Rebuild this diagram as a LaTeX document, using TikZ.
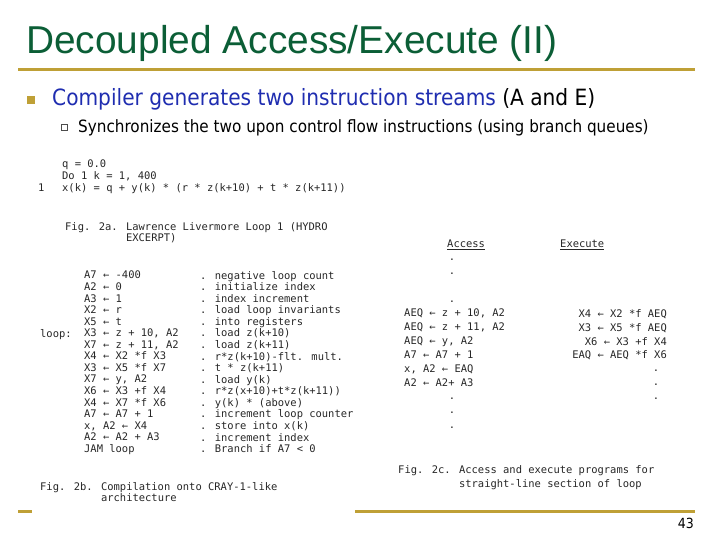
\documentclass[tikz,border=0pt]{standalone}
\usepackage{fontspec}
\setmainfont{DejaVu Sans Condensed}
\newfontfamily\titlefont{Liberation Sans}
\newfontfamily\codefont{DejaVu Sans Mono}
\definecolor{titlegreen}{HTML}{0B5E36}
\definecolor{rulegold}{HTML}{BFA036}
\definecolor{itemblue}{HTML}{1F2DB0}
\tikzset{
  code/.style={anchor=north west, inner sep=0pt, align=left,
    font=\codefont\fontsize{10.5}{11.6}\selectfont, text=black!85},
  codewide/.style={code, font=\codefont\fontsize{10.5}{14}\selectfont},
  dot/.style={code, anchor=center},
  goldrule/.style={rulegold, line width=3bp}
}
\begin{document}
\begin{tikzpicture}[x=1bp,y=-1bp]
  \useasboundingbox (0,0) rectangle (720,540);

  % title and rules
  \node[anchor=base west, inner sep=0pt, text=titlegreen, font=\titlefont\fontsize{39}{39}\selectfont] (title) at (26,54) {Decoupled Access/Execute (II)};
  \draw[goldrule] (18,70) coordinate (ruleL) -- (695,70) coordinate (ruleR);
  \draw[goldrule] (18,511) coordinate (footA) -- (32,511) coordinate (footB);
  \draw[goldrule] (355,511) coordinate (footC) -- (695,511) coordinate (footD);
  \node[anchor=base east, inner sep=0pt, font=\fontsize{14}{14}\selectfont] (page) at (694,528) {43};

  % bullets
  \fill[rulegold] (27,96) rectangle (35,104);
  \node[anchor=base west, inner sep=0pt, font=\fontsize{22.5}{22.5}\selectfont] (item1) at (52,106)
    {\textcolor{itemblue}{Compiler generates two instruction streams} (A and E)};
  \draw[black!70, line width=0.6bp] (61,124) rectangle (67,130);
  \node[anchor=base west, inner sep=0pt, font=\fontsize{17}{17}\selectfont] (item2) at (78,133)
    {Synchronizes the two upon control flow instructions (using branch queues)};

  % Fig. 2a
  \node[code] (srcA) at (62,160) {q = 0.0\\Do 1  k = 1, 400\\x(k) = q + y(k) * (r * z(k+10) + t * z(k+11))};
  \node[code] (srcLbl) at (38,183.2) {1};
  \node[code] (capA) at (65,222) {Fig. 2a.  Lawrence Livermore Loop 1 (HYDRO\\\phantom{Fig. 2a.  }EXCERPT)};

  % Fig. 2b
  \node[code] (crayL) at (84,271) {A7 ← -400\\A2 ← 0\\A3 ← 1\\X2 ← r\\X5 ← t\\X3 ← z + 10, A2\\X7 ← z + 11, A2\\X4 ← X2 *f X3\\X3 ← X5 *f X7\\X7 ←  y, A2\\X6 ← X3 +f X4\\X4 ← X7 *f X6\\A7 ← A7 + 1\\x, A2 ← X4\\A2 ← A2 + A3\\JAM  loop};
  \node[code] (loopLbl) at (40,329) {loop:};
  \node[code] (crayR) at (200,271) {. negative loop count\\. initialize index\\. index increment\\. load loop invariants\\. into registers\\. load z(k+10)\\. load z(k+11)\\. r*z(k+10)-flt. mult.\\. t * z(k+11)\\. load y(k)\\. r*z(x+10)+t*z(k+11))\\. y(k) * (above)\\. increment loop counter\\. store into x(k)\\. increment index\\. Branch if A7 < 0};
  \node[code] (capB) at (40,482) {Fig. 2b.  Compilation onto CRAY-1-like\\\phantom{Fig. 2b.  }architecture};

  % Fig. 2c
  \node[code] (accHd) at (447,240) {\underline{Access}};
  \node[code] (exeHd) at (560,240) {\underline{Execute}};
  \foreach \y [count=\i] in {260,274,302,399,413,428}
    \node[dot] (accDot\i) at (452,\y) {.};
  \foreach \y [count=\i] in {371,385,399}
    \node[dot] (exeDot\i) at (656,\y) {.};
  \node[codewide] (acc) at (404,309) {AEQ ← z + 10, A2\\AEQ ← z + 11, A2\\AEQ ← y, A2\\A7 ← A7 + 1\\x, A2 ← EAQ\\A2  ← A2+ A3};
  \node[codewide, anchor=north east, align=right] (exe) at (667,309) {X4 ← X2 *f AEQ\\X3 ← X5 *f AEQ\\X6 ← X3 +f X4\\EAQ ← AEQ *f X6};
  \node[codewide] (capC) at (398,465) {Fig. 2c.  Access and execute programs for\\\phantom{Fig. 2c.  }straight-line section of loop};
\end{tikzpicture}
\end{document}
